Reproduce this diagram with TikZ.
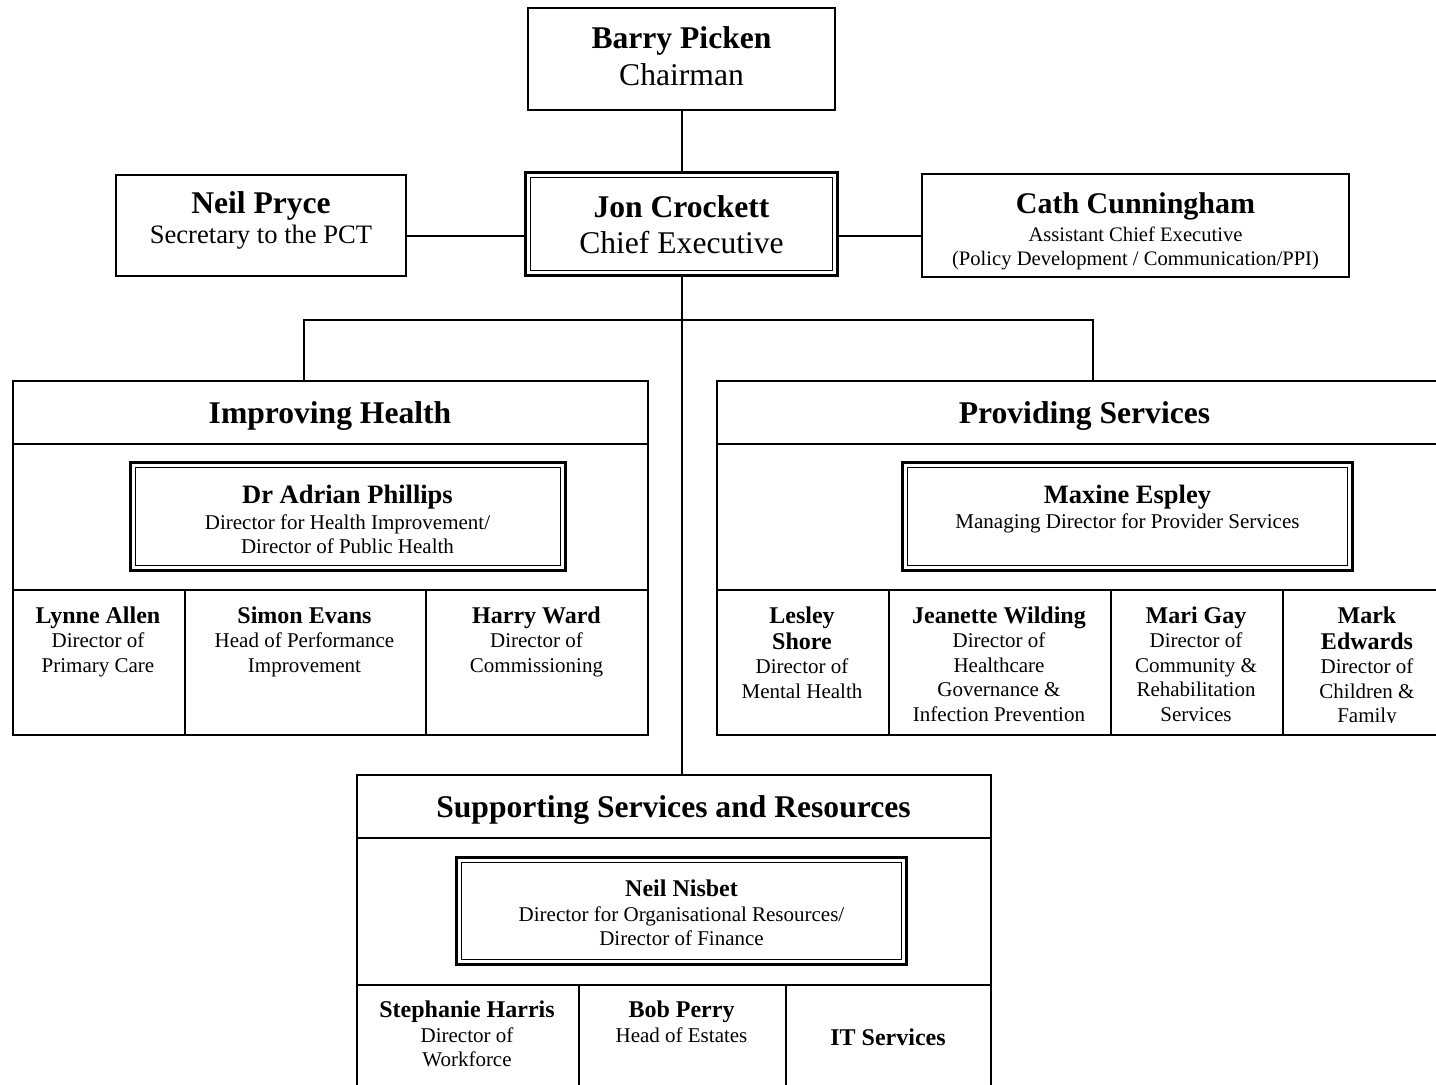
\documentclass[tikz,border=0pt]{standalone}
\usepackage{fontspec}
\setmainfont{Liberation Serif}
\begin{document}
\begin{tikzpicture}[x=1pt,y=-1pt,
  box/.style={draw=black, line width=2pt, rectangle, inner sep=0pt, outer sep=0pt, anchor=north west},
  dblout/.style={draw=black, line width=3pt, rectangle, inner sep=0pt, outer sep=0pt, anchor=north west},
  dblin/.style={draw=black, line width=1.4pt, rectangle, inner sep=0pt, outer sep=0pt, anchor=center},
  conn/.style={draw=black, line width=2pt},
  txt/.style={anchor=base, inner sep=0pt, outer sep=0pt},
  nmA/.style={txt, font=\bfseries\fontsize{31.6}{36}\selectfont},
  rgA/.style={txt, font=\fontsize{31.6}{36}\selectfont},
  nmB/.style={txt, font=\bfseries\fontsize{26.5}{30}\selectfont},
  nmC/.style={txt, font=\bfseries\fontsize{24}{28}\selectfont},
  rgC/.style={txt, font=\fontsize{21}{24}\selectfont},
  rgD/.style={txt, font=\fontsize{26.6}{30}\selectfont},
  rgE/.style={txt, font=\fontsize{20.6}{24}\selectfont},
  nmE/.style={txt, font=\bfseries\fontsize{30}{34}\selectfont}
]
\useasboundingbox (0,0) rectangle (1436,1085);
\fill[white] (0,0) rectangle (1436,1085);
\clip (0,0) rectangle (1436,1085);

% ---------- top boxes ----------
\node[box, minimum width=307pt, minimum height=102pt] (barry) at (528,8) {};
\node[nmA] (barryN) at (681.5,48) {Barry Picken};
\node[rgA] (barryT) at (681.5,85) {Chairman};

\node[dblout, minimum width=312pt, minimum height=103pt] (jon) at (525.5,172.5) {};
\node[dblin, minimum width=302pt, minimum height=93pt] (joninner) at (jon.center) {};
\node[nmA] (jonN) at (681.5,217) {Jon Crockett};
\node[rgA] (jonT) at (681.5,253) {Chief Executive};

\node[box, minimum width=290pt, minimum height=101pt] (neil) at (116,175) {};
\node[nmA] (neilN) at (261,213) {Neil Pryce};
\node[rgD] (neilT) at (261,243) {Secretary to the PCT};

\node[box, minimum width=427pt, minimum height=103pt] (cath) at (922,174) {};
\node[nmE] (cathN) at (1135.5,213) {Cath Cunningham};
\node[rgE] (cathT1) at (1135.5,241) {Assistant Chief Executive};
\node[rgE] (cathT2) at (1135.5,265) {(Policy Development / Communication/PPI)};

% ---------- Improving Health ----------
\node[box, minimum width=635pt, minimum height=63pt] (imph) at (12.5,381) {};
\node[box, minimum width=635pt, minimum height=146pt] (impm) at (12.5,444) {};
\node[box, minimum width=172pt, minimum height=145pt] (impc1) at (12.5,590) {};
\node[box, minimum width=241pt, minimum height=145pt] (impc2) at (184.5,590) {};
\node[box, minimum width=222pt, minimum height=145pt] (impc3) at (425.5,590) {};
\node[nmA] (imphN) at (330,423) {Improving Health};

\node[dblout, minimum width=435pt, minimum height=108pt] (adrian) at (130.5,462.5) {};
\node[dblin, minimum width=425pt, minimum height=98pt] (adrianinner) at (adrian.center) {};
\node[nmB] (adrianN) at (347.5,503) {Dr Adrian Phillips};
\node[rgC] (adrianT1) at (347.5,529) {Director for Health Improvement/};
\node[rgC] (adrianT2) at (347.5,553) {Director of Public Health};

\node[nmC] (lynneN) at (98,623) {Lynne Allen};
\node[rgC] (lynneT1) at (98,647.5) {Director of};
\node[rgC] (lynneT2) at (98,672) {Primary Care};
\node[nmC] (simonN) at (304.5,623) {Simon Evans};
\node[rgC] (simonT1) at (304.5,647.5) {Head of Performance};
\node[rgC] (simonT2) at (304.5,672) {Improvement};
\node[nmC] (harryN) at (536.5,623) {Harry Ward};
\node[rgC] (harryT1) at (536.5,647.5) {Director of};
\node[rgC] (harryT2) at (536.5,672) {Commissioning};

% ---------- Providing Services ----------
\node[box, minimum width=737pt, minimum height=63pt] (provh) at (716.5,381) {};
\node[box, minimum width=737pt, minimum height=146pt] (provm) at (716.5,444) {};
\node[box, minimum width=172pt, minimum height=145pt] (provc1) at (716.5,590) {};
\node[box, minimum width=222pt, minimum height=145pt] (provc2) at (888.5,590) {};
\node[box, minimum width=172pt, minimum height=145pt] (provc3) at (1110.5,590) {};
\node[box, minimum width=171pt, minimum height=145pt] (provc4) at (1282.5,590) {};
\node[nmA] (provhN) at (1084.5,423) {Providing Services};

\node[dblout, minimum width=450pt, minimum height=108pt] (maxine) at (902.5,462.5) {};
\node[dblin, minimum width=440pt, minimum height=98pt] (maxineinner) at (maxine.center) {};
\node[nmB] (maxineN) at (1127.5,503) {Maxine Espley};
\node[rgC] (maxineT) at (1127.5,528) {Managing Director for Provider Services};

\node[nmC] (lesleyN1) at (802,623) {Lesley};
\node[nmC] (lesleyN2) at (802,649) {Shore};
\node[rgC] (lesleyT1) at (802,673.5) {Director of};
\node[rgC] (lesleyT2) at (802,698) {Mental Health};

\node[nmC] (jeanN) at (999,623) {Jeanette Wilding};
\node[rgC] (jeanT1) at (999,647.5) {Director of};
\node[rgC] (jeanT2) at (999,672) {Healthcare};
\node[rgC] (jeanT3) at (999,696.5) {Governance \&};
\node[rgC] (jeanT4) at (999,721) {Infection Prevention};

\node[nmC] (mariN) at (1196,623) {Mari Gay};
\node[rgC] (mariT1) at (1196,647.5) {Director of};
\node[rgC] (mariT2) at (1196,672) {Community \&};
\node[rgC] (mariT3) at (1196,696.5) {Rehabilitation};
\node[rgC] (mariT4) at (1196,721) {Services};

\begin{scope}
\clip (1284,592) rectangle (1436,722.5);
\node[nmC] (markN1) at (1367,623) {Mark};
\node[nmC] (markN2) at (1367,649) {Edwards};
\node[rgC] (markT1) at (1367,673.5) {Director of};
\node[rgC] (markT2) at (1367,698) {Children \&};
\node[rgC] (markT3) at (1367,722.5) {Family};
\end{scope}

% ---------- Supporting Services ----------
\node[box, minimum width=634pt, minimum height=63pt] (supph) at (356.5,775) {};
\node[box, minimum width=634pt, minimum height=147pt] (suppm) at (356.5,838) {};
\node[box, minimum width=222pt, minimum height=140pt] (suppc1) at (356.5,985) {};
\node[box, minimum width=207pt, minimum height=140pt] (suppc2) at (578.5,985) {};
\node[box, minimum width=205pt, minimum height=140pt] (suppc3) at (785.5,985) {};
\node[nmA] (supphN) at (673.5,817) {Supporting Services and Resources};

\node[dblout, minimum width=450pt, minimum height=107pt] (nisbet) at (456.5,857.5) {};
\node[dblin, minimum width=440pt, minimum height=97pt] (nisbetinner) at (nisbet.center) {};
\node[nmC] (nisbetN) at (681.5,896) {Neil Nisbet};
\node[rgC] (nisbetT1) at (681.5,921) {Director for Organisational Resources/};
\node[rgC] (nisbetT2) at (681.5,945) {Director of Finance};

\node[nmC] (stephN) at (467,1017) {Stephanie Harris};
\node[rgC] (stephT1) at (467,1042) {Director of};
\node[rgC] (stephT2) at (467,1066) {Workforce};
\node[nmC] (bobN) at (681.5,1017) {Bob Perry};
\node[rgC] (bobT) at (681.5,1042) {Head of Estates};
\node[nmC] (itN) at (888,1045) {IT Services};

% ---------- connectors ----------
\coordinate (ceLine) at (682,236);
\coordinate (busL) at (304,319.5);
\coordinate (busR) at (1093,319.5);
\draw[conn] (barry.south) -- (jon.north);
\draw[conn] (neil.east |- ceLine) -- (jon.west |- ceLine);
\draw[conn] (jon.east |- ceLine) -- (cath.west |- ceLine);
\draw[conn] (jon.south) -- (jon.south |- supph.north);
\draw[conn] (busL |- imph.north) -- (busL) -- (busR) -- (busR |- provh.north);
\end{tikzpicture}
\end{document}
